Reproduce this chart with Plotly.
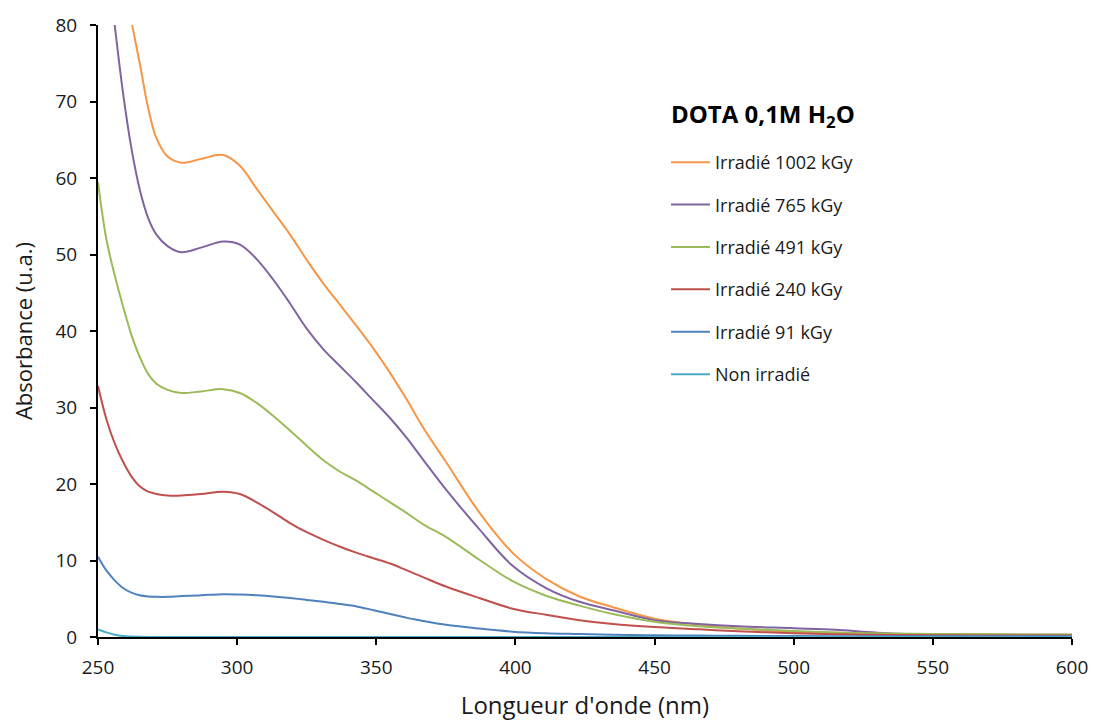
import plotly.graph_objects as go

wavelength = [250, 253, 256, 259, 262, 265, 268, 271, 275, 280, 287, 295, 301, 307, 313, 319,
              325, 331, 337, 343, 349, 355, 361, 367, 375, 387, 399, 411, 423, 435, 450, 466,
              480, 500, 515, 525, 535, 550, 575, 600]

irr_1002 = [120, 106, 95, 86, 80.5, 75.0, 69.2, 65.2, 62.8, 62.0, 62.5, 63.0, 61.6, 58.6, 55.6, 52.6,
            49.3, 46.2, 43.4, 40.6, 37.7, 34.5, 31.0, 27.3, 22.9, 16.3, 11.0, 7.6, 5.3, 3.9, 2.4, 1.6,
            1.1, 0.7, 0.55, 0.45, 0.4, 0.35, 0.3, 0.3]
irr_765 = [100, 90, 80, 71.1, 63.9, 58.5, 54.8, 52.6, 51.1, 50.3, 50.9, 51.7, 51.3, 49.4, 46.7, 43.6,
           40.3, 37.6, 35.4, 33.2, 30.9, 28.6, 26.0, 23.1, 19.3, 14.1, 9.3, 6.4, 4.6, 3.5, 2.2, 1.7,
           1.4, 1.15, 0.95, 0.7, 0.45, 0.35, 0.3, 0.3]
irr_491 = [59.5, 52.0, 47.3, 43.2, 39.5, 36.6, 34.4, 33.1, 32.3, 31.9, 32.1, 32.4, 31.9, 30.6, 28.9, 27.0,
           25.0, 23.1, 21.6, 20.4, 19.0, 17.6, 16.2, 14.7, 13.1, 10.1, 7.3, 5.4, 4.1, 3.0, 2.0, 1.4,
           1.1, 0.8, 0.6, 0.5, 0.45, 0.4, 0.35, 0.3]
irr_240 = [32.8, 28.5, 25.3, 22.9, 21.0, 19.7, 19.0, 18.7, 18.5, 18.5, 18.7, 19.0, 18.7, 17.6, 16.3, 14.9,
           13.7, 12.7, 11.8, 11.0, 10.3, 9.6, 8.7, 7.8, 6.6, 5.1, 3.7, 2.9, 2.2, 1.7, 1.3, 1.0,
           0.75, 0.5, 0.35, 0.3, 0.25, 0.22, 0.2, 0.2]
irr_91 = [10.5, 8.7, 7.4, 6.4, 5.8, 5.45, 5.3, 5.25, 5.25, 5.35, 5.45, 5.6, 5.55, 5.45, 5.3, 5.1,
          4.85, 4.6, 4.3, 4.0, 3.5, 3.0, 2.5, 2.1, 1.6, 1.1, 0.7, 0.5, 0.4, 0.3, 0.22, 0.18,
          0.15, 0.12, 0.11, 0.1, 0.1, 0.1, 0.1, 0.1]
non_irr = [1.0, 0.6, 0.3, 0.12, 0.05, 0.02, 0.01, 0.01, 0.01, 0.01, 0.01, 0.01, 0.01, 0.01, 0.01, 0.01,
           0.01, 0.01, 0.01, 0.01, 0.01, 0.01, 0.01, 0.01, 0.01, 0.01, 0.01, 0.01, 0.01, 0.01, 0.01, 0.01,
           0.01, 0.01, 0.01, 0.01, 0.01, 0.01, 0.01, 0.01]

series_names = ["Irradié 1002 kGy", "Irradié 765 kGy", "Irradié 491 kGy",
                "Irradié 240 kGy", "Irradié 91 kGy", "Non irradié"]
series_values = [irr_1002, irr_765, irr_491, irr_240, irr_91, non_irr]
colors = ["#F79646", "#8064A2", "#9BBB59", "#C0504D", "#4F81BD", "#4BACC6"]
legend_title = "<b>DOTA 0,1M H<sub>2</sub>O</b>"

FONT = "Open Sans"
TXT = "#1a1a1a"

fig = go.Figure()
for i, (name, vals, col) in enumerate(zip(series_names, series_values, colors)):
    fig.add_trace(go.Scatter(
        x=wavelength, y=vals, name=name, mode="lines",
        line=dict(color=col, width=2, shape="spline", smoothing=1.0),
        legendgroup=f"g{i}",
    ))

fig.add_annotation(
    xref="paper", yref="paper",
    x=(669 - 98) / 974, y=(637 - 115) / 612,
    xanchor="left", yanchor="middle",
    text=legend_title, showarrow=False,
    font=dict(size=24, family=FONT, color="#000"),
)

fig.update_layout(
    width=1094, height=721,
    margin=dict(l=98, r=22, t=25, b=84),
    paper_bgcolor="white", plot_bgcolor="white",
    font=dict(family=FONT, color=TXT),
    showlegend=True,
    legend=dict(
        x=0.5832, y=0.8056, xanchor="left", yanchor="top",
        font=dict(size=18, family=FONT, color=TXT),
        tracegroupgap=16,
        bgcolor="rgba(0,0,0,0)",
        itemwidth=39,
    ),
    xaxis=dict(
        range=[250, 600], dtick=50, tick0=250,
        showgrid=False, zeroline=False, automargin=False,
        showline=True, linecolor="#000", linewidth=2,
        ticks="outside", ticklen=6, tickwidth=2, tickcolor="#000",
        ticklabelstandoff=6,
        tickfont=dict(size=19, family=FONT, color=TXT),
        title=dict(text="Longueur d'onde (nm)", font=dict(size=24, family=FONT, color=TXT), standoff=19),
        layer="below traces",
    ),
    yaxis=dict(
        range=[0, 80], dtick=10,
        showgrid=False, zeroline=False, automargin=False,
        showline=True, linecolor="#000", linewidth=2,
        ticks="outside", ticklen=6, tickwidth=2, tickcolor="#000",
        ticklabelstandoff=9,
        tickfont=dict(size=19, family=FONT, color=TXT),
        title=dict(text="Absorbance (u.a.)", font=dict(size=22, family=FONT, color=TXT), standoff=17),
        layer="below traces",
    ),
)

fig.write_html("out.html", config={"displayModeBar": False},
               post_script="document.body.style.margin='0';document.body.style.overflow='hidden';")
